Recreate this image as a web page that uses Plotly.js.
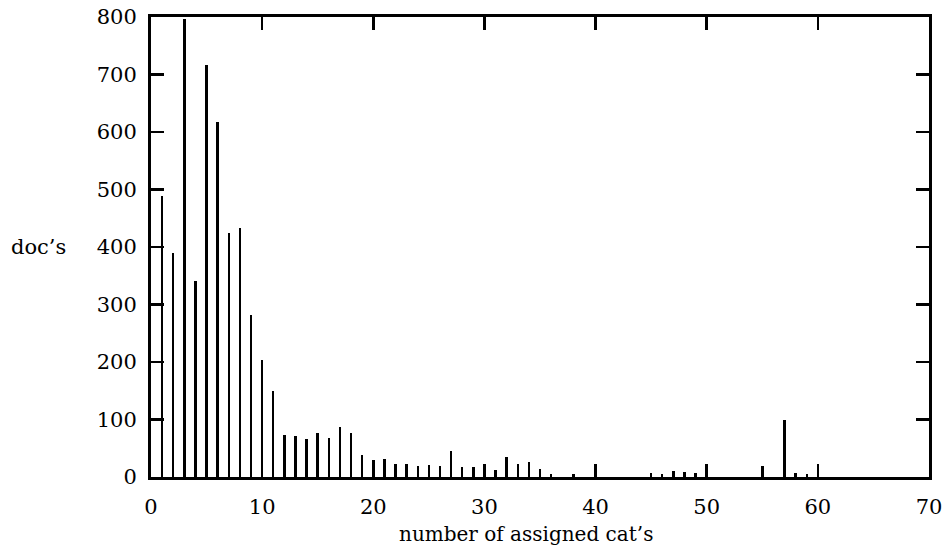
<!DOCTYPE html>
<html>
<head>
<meta charset="utf-8">
<script src="https://cdn.plot.ly/plotly-3.0.1.min.js"></script>
<style>html,body{margin:0;padding:0;background:#fff;}#chart{width:943px;height:547px;}</style>
</head>
<body>
<div id="chart"></div>
<script>
const categories = [1,2,3,4,5,6,7,8,9,10,11,12,13,14,15,16,17,18,19,20,21,22,23,24,25,26,27,28,29,30,31,32,33,34,35,36,38,45,46,47,48,49,55,57,58,59];
const docs = [489,390,797,341,716,617,424,433,282,203,150,73,71,66,76,68,87,77,38,30,31,23,23,19,21,19,45,17,17,21,12,35,23,26,14,5,5,7,5,10,8,7,19,100,7,5];
const xTicks = [0,10,20,30,40,50,60,70];
const yTicks = [0,100,200,300,400,500,600,700,800];

const tickFont = {family: '"DejaVu Serif", serif', size: 21, color: '#000'};
const titleFont = {family: '"DejaVu Serif", serif', size: 20, color: '#000'};

const trace = {
  type: 'bar',
  x: categories,
  y: docs,
  width: 0.22,
  marker: {color: '#000', line: {width: 0}},
  hoverinfo: 'x+y'
};

const axisCommon = {
  showline: true, linecolor: '#000', linewidth: 3,
  mirror: 'ticks', ticks: 'inside', ticklen: 13, tickwidth: 2.5, tickcolor: '#000',
  showgrid: false, zeroline: false, tickfont: tickFont
};

const layout = {
  width: 943, height: 547,
  margin: {l: 151, r: 14, t: 17, b: 70},
  paper_bgcolor: '#fff', plot_bgcolor: '#fff',
  font: tickFont,
  showlegend: false,
  bargap: 0,
  xaxis: Object.assign({}, axisCommon, {
    range: [0, 70], tickvals: xTicks, ticktext: xTicks.map(String),
    ticklabelstandoff: 9
  }),
  yaxis: Object.assign({}, axisCommon, {
    range: [0, 800], tickvals: yTicks, ticktext: yTicks.map(String),
    ticklabelstandoff: 7
  }),
  annotations: [{
    text: 'doc’s', xref: 'paper', yref: 'paper', x: 0, y: 0.5,
    xanchor: 'left', yanchor: 'middle', xshift: -142, showarrow: false, font: tickFont
  }, {
    text: 'number of assigned cat’s', xref: 'paper', yref: 'paper', x: 0.4826, y: 0,
    xanchor: 'center', yanchor: 'top', yshift: -44, borderpad: 0, showarrow: false, font: titleFont
  }]
};

Plotly.newPlot('chart', [trace], layout, {displayModeBar: false, staticPlot: true});
</script>
</body>
</html>
